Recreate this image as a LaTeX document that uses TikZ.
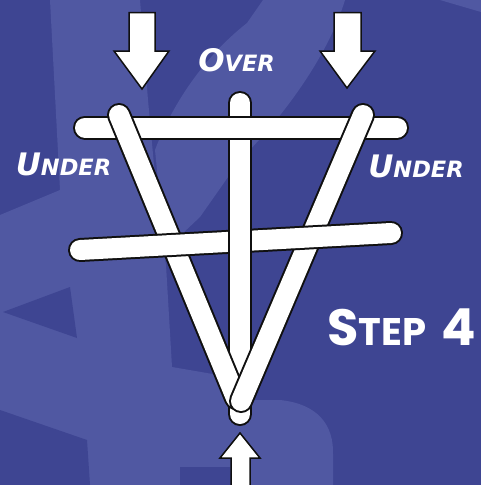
\documentclass[tikz,border=0pt]{standalone}
\usepackage{fontspec}
\newfontfamily\lblfont{DejaVu Sans}
\newfontfamily\stepfont{Poppins}
\definecolor{bgdark}{HTML}{3E4592}
\definecolor{bglight}{HTML}{5058A2}
\definecolor{outl}{HTML}{101010}
\newcommand\stickdraw[2]{\draw[stickout] (#1) -- (#2); \draw[stickin] (#1) -- (#2);}
\newcommand\sclab[2]{{\fontsize{31}{31}\selectfont #1}{\fontsize{22.5}{22.5}\selectfont #2}}
\tikzset{
  stickout/.style={line width=24pt, line cap=round, draw=outl},
  stickin/.style={line width=20pt, line cap=round, draw=white},
  blockarrow/.style={fill=white, draw=outl, line width=1.5pt, line join=miter},
  lbl/.style={text=white, inner sep=0pt, font=\lblfont\bfseries\itshape},
}
\begin{document}
\begin{tikzpicture}[x=1pt,y=-1pt]
\useasboundingbox (0,0) rectangle (481,485);
\clip (0,0) rectangle (481,485);
% background
\fill[bgdark] (0,0) rectangle (481,485);
\fill[bglight] (50,0) -- (140,0) -- (148,100) -- (160,230) -- (166,265) -- (172,367) -- (230,377) -- (238,400)
  -- (280,400) .. controls (318,404) and (334,425) .. (333,455) -- (333,485) -- (0,485) -- (0,215) -- (60,190) -- cycle;
\fill[bglight] (263,0) -- (345,0) .. controls (330,50) and (290,110) .. (240,160) -- (200,217) -- (165,250)
  -- (155,150) .. controls (170,110) and (200,60) .. (247,23) -- cycle;
\fill[bglight] (440,0) -- (481,0) -- (481,12) -- cycle;
\fill[bgdark] (3,312) -- (70,287) -- (77,338) -- cycle;
\fill[bgdark] (0,410) -- (87,440) -- (90,485) -- (0,485) -- cycle;
\fill[bgdark] (180,467) -- (230,467) -- (232,485) -- (180,485) -- cycle;
% stick end points
\coordinate (vt) at (240,103);
\coordinate (vb) at (240,414);
\coordinate (tl) at (85,127.5);
\coordinate (tr) at (397,127.5);
\coordinate (ldt) at (119,115);
\coordinate (ldb) at (236,398);
\coordinate (rdt) at (363,115);
\coordinate (rdb) at (241,401);
\coordinate (lhl) at (80,250);
\coordinate (lhr) at (391,233);
% sticks (weave order)
\stickdraw{vt}{vb}
\stickdraw{tl}{tr}
\stickdraw{ldt}{ldb}
\stickdraw{rdt}{rdb}
\stickdraw{lhl}{lhr}
\begin{scope}
  \clip (222,212) rectangle (258,272);
  \stickdraw{vt}{vb}
\end{scope}
% arrows
\draw[blockarrow] (129,12.5) -- (155,12.5) -- (155,51) -- (169,51) -- (142,89) -- (114,51) -- (129,51) -- cycle;
\draw[blockarrow] (334,12.5) -- (361,12.5) -- (361,51) -- (375,51) -- (347,88) -- (320,51) -- (334,51) -- cycle;
\draw[blockarrow] (231,492) -- (231,458) -- (220,458) -- (240,433) -- (260,458) -- (250,458) -- (250,492) -- cycle;
% labels
\node[lbl, anchor=base] (over) at (236.5,71) {\sclab{O}{VER}};
\node[lbl, anchor=base] (underl) at (63.5,175) {\sclab{U}{NDER}};
\node[lbl, anchor=base] (underr) at (416,177) {\sclab{U}{NDER}};
\node[anchor=base west, inner sep=0pt, text=white, font=\stepfont\bfseries] (step) at (327,345)
  {{\fontsize{51}{51}\selectfont S}{\fontsize{38.5}{38.5}\selectfont TEP}\hspace{15pt}{\fontsize{51}{51}\selectfont 4}};
\end{tikzpicture}
\end{document}
